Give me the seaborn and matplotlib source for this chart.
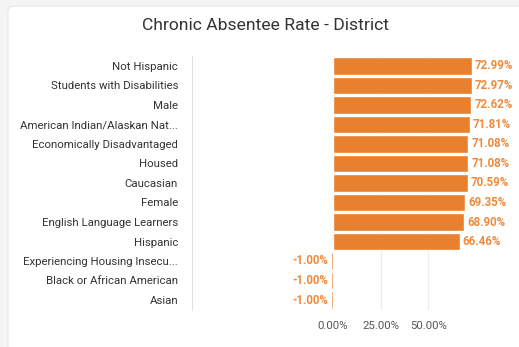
import matplotlib
matplotlib.use("Agg")
import matplotlib.pyplot as plt
from matplotlib.patches import FancyBboxPatch
import seaborn as sns
import pandas as pd

# === Data ===
groups = [
    "Not Hispanic",
    "Students with Disabilities",
    "Male",
    "American Indian/Alaskan Nat...",
    "Economically Disadvantaged",
    "Housed",
    "Caucasian",
    "Female",
    "English Language Learners",
    "Hispanic",
    "Experiencing Housing Insecu...",
    "Black or African American",
    "Asian",
]
rates = [72.99, 72.97, 72.62, 71.81, 71.08, 71.08, 70.59, 69.35, 68.90, 66.46, -1.00, -1.00, -1.00]
x_ticks = [0, 25, 50]

BAR_COLOR = "#e8802e"
LABEL_COLOR = "#ef8a3c"

df = pd.DataFrame({"group": groups, "rate": rates})

sns.set_theme(style="white")
plt.rcParams["font.family"] = ["Roboto", "DejaVu Sans"]

fig = plt.figure(figsize=(5.19, 3.47), dpi=100)
fig.patch.set_facecolor("#f4f4f4")

# white card behind the chart
bg = fig.add_axes([0, 0, 1, 1], zorder=-1)
bg.set_xlim(0, 519)
bg.set_ylim(347, 0)
bg.axis("off")
bg.add_patch(FancyBboxPatch((8, 6), 530, 360, boxstyle="round,pad=0,rounding_size=6",
                            facecolor="white", edgecolor="#e6e6e6", linewidth=0.8))

ax = fig.add_axes([192 / 519, 1 - 309.75 / 347, (474 - 192) / 519, (309.75 - 56.25) / 347])
ax.set_facecolor("none")

sns.barplot(data=df, x="rate", y="group", color=BAR_COLOR, saturation=1,
            width=0.88, ax=ax, zorder=3)

for c in ax.containers:
    ax.bar_label(c, labels=[f"{v:.2f}%" for v in rates], padding=2,
                 color=LABEL_COLOR, fontsize=8.3, fontweight="bold")

ax.set_xlim(-74, 74)
ax.set_xticks(x_ticks)
ax.set_xticklabels([f"{t:.2f}%" for t in x_ticks], fontsize=8.2, color="#555555")
ax.tick_params(axis="y", labelsize=8.2, labelcolor="#333333", length=0, pad=10)
ax.tick_params(axis="x", length=0, pad=8)
ax.set_xlabel("")
ax.set_ylabel("")

ax.grid(axis="x", color="#ececec", linewidth=0.8, zorder=0)
for s in ["top", "right", "bottom"]:
    ax.spines[s].set_visible(False)
ax.spines["left"].set_color("#e2e2e2")
ax.spines["left"].set_linewidth(0.8)

fig.text(266 / 519, 1 - 25 / 347, "Chronic Absentee Rate - District",
         ha="center", va="center", fontsize=12.6, color="#333333")

fig.savefig("out.png", dpi=100, facecolor=fig.get_facecolor())
